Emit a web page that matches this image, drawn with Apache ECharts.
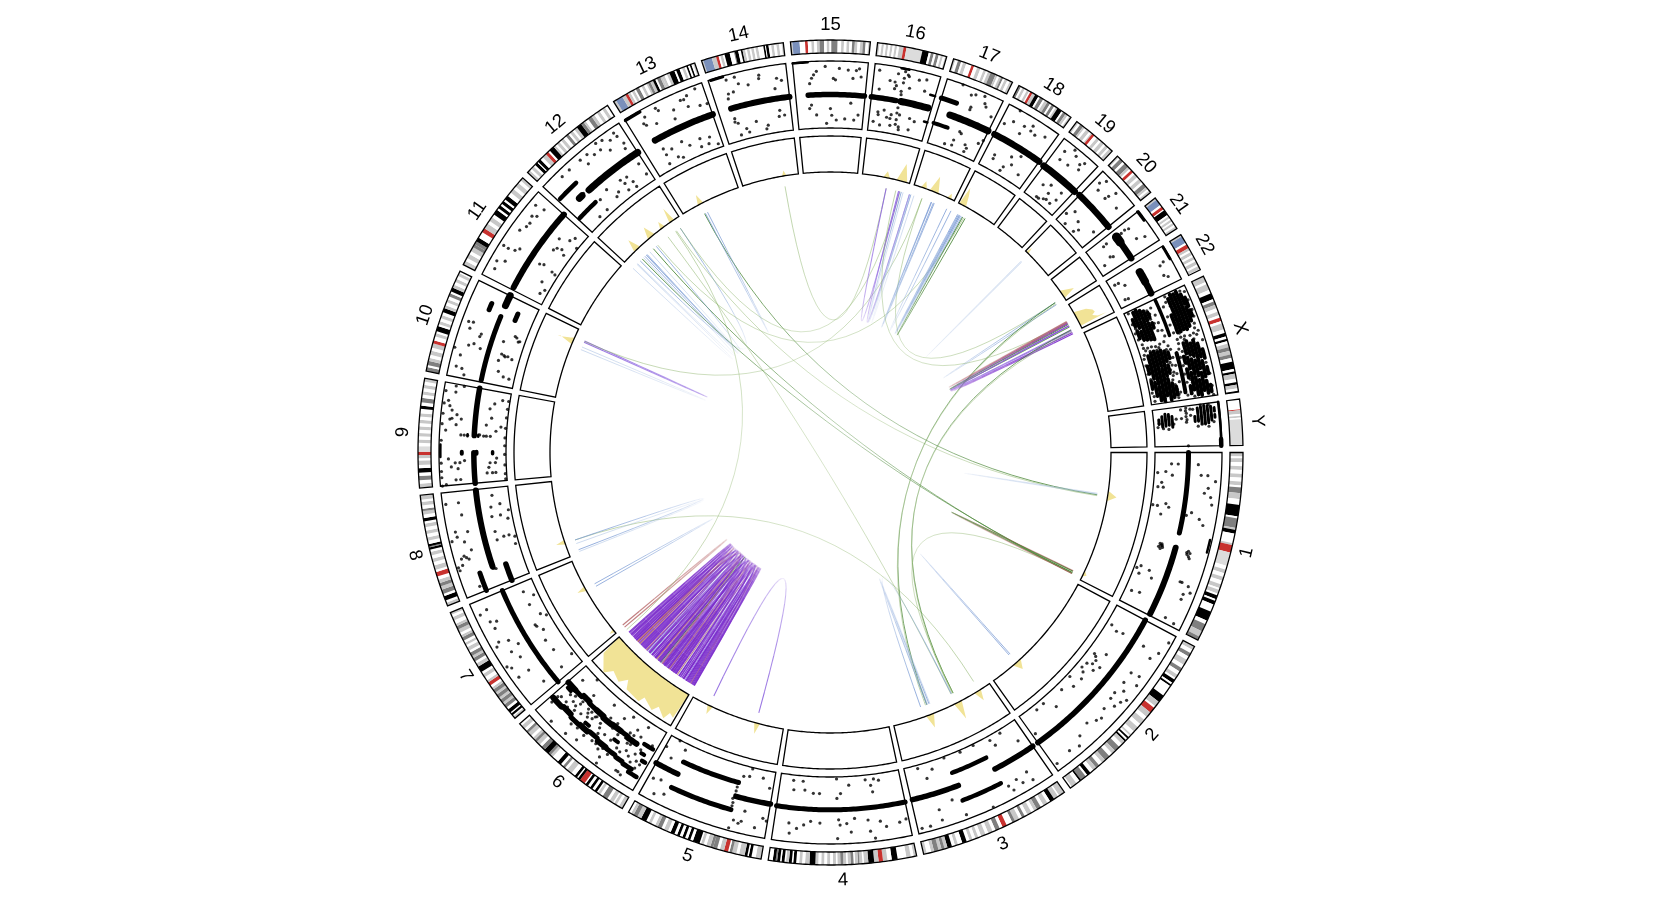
<!DOCTYPE html>
<html><head><meta charset="utf-8">
<style>html,body{margin:0;padding:0;background:#fff}#c{width:1662px;height:907px}</style>
<script src="https://cdn.jsdelivr.net/npm/echarts@6/dist/echarts.min.js"></script>
</head><body><div id="c"></div>
<script>
const chrNames=["1","2","3","4","5","6","7","8","9","10","11","12","13","14","15","16","17","18","19","20","21","22","X","Y"];
const chrLengths=[249.25,243.2,198,191.15,180.9,171.1,159.1,146.4,141.2,135.5,135,133.9,115.2,107.3,102.5,90.4,81.2,78.1,59.1,63,48.1,51.3,155.3,59.4];
// ideogram bands: width (% of chromosome), stain code
const stainColors=["#ffffff","#c8c8c8","#7f7f7f","#000000","#c8322f","#7a90bb","#dcdcdc"];
const bands1=[2,1,1,0,2,1,2,0,2,1,2,0,2,1,2,0,2,1,1,0,3,2,3,1,1,0,2,0,6,3,1,0,5,2,1,1,2,3,5,0,1,1,4,4,7,6,2,0,2,1,2,0,2,1,2,0,2,1,1,0,2,1,1,0,2,3,1,0,2,3,4,0,5,3,2,0,4,2,3,1,2,2];
const bands2=[2,1,2,0,2,2,2,0,3,1,2,0,2,2,2,0,2,1,1,0,2,3,1,0,1,3,6,0,4,3,3,1,1,0,3,4,3,1,2,0,3,1,2,0,3,1,2,0,1,1,1,0,1,3,1,0,1,3,2,1,2,0,3,2,2,1,2,0,3,2,2,1,2,0,2,2,2,1,2,0,2,3,1,0,3,2,1,3,2,0,3,1,1,0];
const bands3=[4,1,1,0,3,1,3,3,2,0,3,1,2,0,3,2,2,1,2,0,3,1,2,0,2,2,2,0,3,1,2,2,2,0,2,0,3,4,2,0,3,2,2,0,3,1,2,0,3,1,2,0,2,1,2,0,2,1,2,0,3,3,3,0,2,1,2,0,3,3,2,1,2,2,2,1,3,2,2,1,3,0,2,1];
const bands4=[2,1,2,0,3,1,2,0,4,0,4,3,3,0,3,1,3,4,3,1,4,3,3,1,1,0,2,1,1,2,2,1,1,0,2,2,2,1,1,0,2,1,2,2,2,1,1,0,2,1,2,0,2,1,2,0,2,1,2,0,2,1,4,3,3,1,2,0,2,1,2,0,2,3,1,0,2,3,2,1,1,0,2,3,1,0,2,3,1,2,2,3,3,0];
const bands5=[4,1,3,0,2,3,1,0,2,3,4,1,2,0,3,1,2,2,1,0,3,4,3,1,2,0,3,2,2,2,3,1,2,0,2,1,1,0,5,3,2,0,2,3,2,0,2,3,2,0,2,3,2,0,3,3,2,0,3,1,2,0,3,2,2,1,3,0,2,1,2,0,4,3,3,1,3,2,2,1,2,0];
const bands6=[3,1,2,0,2,1,1,0,3,1,2,0,4,2,2,0,2,1,1,0,2,3,2,0,2,3,2,0,2,3,1,0,4,4,2,3,1,0,2,3,3,0,4,1,2,0,2,2,2,0,3,3,2,0,3,0,2,1,2,2,4,3,3,2,2,0,3,1,2,2,2,1,2,0,3,1,2,2,2,0,3,1,2,0];
const bands7=[2,1,1,0,2,3,1,0,3,3,2,0,3,2,2,1,3,2,2,1,3,2,2,1,3,2,2,1,2,0,3,4,2,1,3,0,3,1,2,0,5,3,3,1,2,0,3,2,2,1,3,2,2,0,3,1,2,0,2,1,2,0,3,2,2,1,2,0,3,1,3,2,2,1,3,0,3,1,2,0,2,1];
const bands8=[3,1,2,0,4,3,2,0,4,2,3,1,3,2,3,1,3,0,4,4,2,0,4,1,3,0,3,1,3,0,3,1,2,0,2,3,1,2,2,3,3,0,3,1,3,0,3,1,3,0,3,1,2,0,3,3,3,0,3,1,2,2,3,0,3,1,2,0,4,1];
const bands9=[4,1,3,0,4,2,3,0,4,3,3,0,4,1,2,0,3,1,3,4,5,6,3,0,3,1,3,0,3,1,3,0,3,1,3,0,3,1,3,0,3,1,3,0,1,0,3,3,3,0,4,2,3,0,3,1,3,0,3,1,3,0,3,1];
const bands10=[4,2,2,0,4,2,3,1,3,0,4,1,3,0,4,1,3,4,4,0,3,1,2,0,5,3,2,0,3,1,3,0,3,1,3,0,4,3,3,1,3,0,3,1,3,0,3,2,2,0,4,3,3,1,3,0,3,1,3,0,3,1,2,0];
const bands11=[4,1,3,0,4,1,3,0,4,1,3,2,3,2,4,3,3,0,3,0,4,4,5,1,3,0,4,1,3,0,5,3,2,0,3,3,2,0,3,3,2,0,4,3,4,0,4,1,3,0,4,1,3,0,3,1];
const bands12=[3,1,2,0,3,1,2,0,3,3,1,0,3,3,3,0,4,1,3,4,2,0,5,3,2,1,2,0,3,1,2,0,3,1,3,0,3,2,2,0,3,1,2,0,3,1,5,3,3,2,2,1,3,0,4,2,3,1,3,0,3,1,3,0,3,1,3,0];
const bands13=[3,1,8,5,4,1,3,4,3,1,2,0,3,1,2,0,4,2,3,0,3,1,3,0,2,1,3,2,3,1,3,3,2,0,4,2,2,1,3,1,3,0,3,1,6,3,2,0,4,3,3,0,3,1,2,0,2,3,2,0,2,3,2,0,2,1];
const bands14=[2,1,10,5,5,1,3,4,2,0,3,1,2,0,6,3,5,0,1,2,4,3,3,0,2,3,3,1,2,0,3,1,2,0,3,1,2,0,3,1,6,0,2,3,1,0,3,3,3,0,3,1,3,0,3,1,3,0,2,1];
const bands15=[2,1,8,5,6,0,3,4,4,0,3,1,3,0,3,1,5,2,3,0,3,1,2,0,7,2,4,0,3,1,3,0,3,1,3,0,3,2,3,1,3,0,3,1,3,2,3,0,2,1];
const bands16=[3,1,3,0,3,1,3,0,3,1,3,0,3,1,3,0,3,1,3,0,6,1,4,4,22,6,9,3,3,0,4,2,3,0,4,2,3,0,3,1,3,0,2,1];
const bands17=[3,1,4,0,5,2,3,0,5,1,5,0,3,0,4,4,5,0,5,1,5,0,4,1,3,0,4,1,8,2,3,1,3,0,3,1,3,2,3,0,4,1,4,0,4,1];
const bands18=[4,2,3,0,4,1,4,0,4,1,2,0,4,4,5,1,6,3,3,0,6,2,3,0,5,1,5,2,3,0,5,2,3,0,3,1,8,3,3,0,5,2,4,1,3,0,3,1];
const bands19=[5,1,5,0,8,2,4,1,5,0,8,1,5,0,3,1,6,4,7,0,7,1,5,0,8,1,5,0,7,1,4,0,8,1];
const bands20=[4,1,4,0,8,2,5,0,10,2,5,1,4,0,6,4,5,0,8,1,5,0,8,1,5,0,9,2,5,1,4,0,5,1];
const bands21=[6,1,18,5,6,0,9,4,3,0,16,3,5,0,6,1,5,0,6,1,5,0,6,1,6,0,7,1];
const bands22=[5,1,18,5,5,0,10,4,6,1,5,0,8,1,5,0,7,1,6,0,8,1,5,0,8,1,2,0];
const bandsX=[5,1,2,0,5,1,3,0,5,3,2,0,3,2,3,1,3,0,3,1,2,0,3,4,2,0,5,1,3,0,3,3,2,0,2,3,2,0,3,1,3,2,3,1,3,2,3,0,6,3,2,0,2,3,4,1,3,0,2,3,3,1,2,0,1,3];
const bandsY=[22,0,2,4,8,1,4,0,4,1,3,0,57,6];
const chrBands=[bands1,bands2,bands3,bands4,bands5,bands6,bands7,bands8,bands9,bands10,bands11,bands12,bands13,bands14,bands15,bands16,bands17,bands18,bands19,bands20,bands21,bands22,bandsX,bandsY];

// dense copy-number runs: position from, position to, level, spread
const runs1=[[0,48,50,5],[57,99,50,6],[48,55,97,2.5]];
const runs2=[[0,100,48,5.5]];
const runs3=[[0,33,48,5.5],[35,64,27,4.5],[34,64,71,4.5],[63,99,48,5.5]];
const runs4=[[0,100,49,5]];
const runs5=[[0,29,48,5.5],[30,80,27,5],[30,80,69,5],[80,100,47,5.5]];
const runs6=[[90,99,36,6],[82,89,36,5],[74,81,33,6],[66,73,35,5],[56,64,35,6],[46,55,37,6],[36,45,36,6],[28,35,36,5],[18,27,38,6],[88,98,68,6],[78,86,66,6],[68,76,69,5],[58,66,68,6],[48,56,66,5],[38,46,69,6],[28,36,70,5],[20,26,72,5],[10,18,74,5],[3,12,32,4.5],[3,11,80,4.5],[3,6,55,4.5],[7,10,46,4],[92,96,42,4],[60,64,60,4],[32,36,52,4]];
const runs7=[[0,100,47,5]];
const runs8=[[0,18,28,5.5],[0,18,69,5],[20,99,48,6]];
const runs9=[[0,32,48,5.5],[50,100,48,5.5],[28,40,98,2.5],[31,33,20,3.5],[31,33,44,4],[31,33,66,4],[49,51,42,2.5],[49,51,58,2.5]];
const runs10=[[2,75,48,5],[77,84,68,5],[77,85,26,5],[88,100,48,7]];
const runs11=[[3,100,49,6]];
const runs12=[[32,100,48,7],[18,22,49,7],[3,27,69,4.5],[2,28,28,4.5]];
const runs13=[[19,100,50,6.5],[0,20,98,3]];
const runs14=[[18,100,50,6],[3,19,99,3]];
const runs15=[[18,99,50,5.5],[0,20,99,2.5]];
const runs16=[[0,41,50,5.5],[49,94,50,7],[40,52,99,2.5],[92,100,70,2.5],[94,100,29,2.5]];
const runs17=[[0,28,70,5],[24,99,50,7],[0,28,31,4]];
const runs18=[[1,100,50,6.5]];
const runs19=[[0,100,49,7]];
const runs20=[[0,100,50,6.5]];
const runs21=[[0,30,98,3],[21,40,50,9],[40,100,50,6.5]];
const runs22=[[3,39,99,3],[29,60,50,8],[60,98,50,6.5]];
const runsX=[[1,37,51,3.5],[55,93,53,4],
 [10,17,8,3.8],[22,30,8,3.8],[3,9,13,3.8],[11,20,13,3.8],[24,33,13,3.8],[2,12,18,3.8],[15,24,18,3.8],[26,34,18,3.8],[4,10,23,3.8],[12,21,23,3.8],[23,35,23,3.8],[6,16,28,3.8],[19,28,28,3.8],[30,36,28,3.8],[9,14,33,3.8],[20,25,33,3.8],
 [20,30,64,3.8],[32,37,64,3.8],[5,12,69,3.8],[14,27,69,3.8],[29,37,69,3.8],[2,9,74,3.8],[11,22,74,3.8],[24,36,74,3.8],[3,13,79,3.8],[15,28,79,3.8],[30,37,79,3.8],[2,10,84,3.8],[12,24,84,3.8],[26,35,84,3.8],[6,15,89,3.8],[18,31,89,3.8],[10,18,93,3.8],[22,27,93,3.8],
 [60,68,6,3.8],[76,84,6,3.8],[50,58,11,3.8],[60,74,11,3.8],[78,92,11,3.8],[48,62,16,3.8],[64,80,16,3.8],[83,97,16,3.8],[47,56,21,3.8],[58,72,21,3.8],[74,88,21,3.8],[90,98,21,3.8],[49,63,26,3.8],[66,78,26,3.8],[80,93,26,3.8],[48,58,31,3.8],[60,74,31,3.8],[77,90,31,3.8],[92,98,31,3.8],[50,60,36,3.8],[64,72,36,3.8],[82,96,36,3.8],[52,58,41,3.8],[86,94,41,3.8],
 [60,66,62,3.8],[72,80,62,3.8],[88,95,62,3.8],[48,58,67,3.8],[62,72,67,3.8],[76,92,67,3.8],[47,60,72,3.8],[64,78,72,3.8],[81,97,72,3.8],[50,62,77,3.8],[66,80,77,3.8],[84,98,77,3.8],[48,58,82,3.8],[60,74,82,3.8],[78,94,82,3.8],[52,64,87,3.8],[68,82,87,3.8],[86,97,87,3.8],[58,66,92,3.8],[74,80,92,3.8],[90,96,92,3.8]];
const runsY=[[0,100,99,2.5],[85,100,99,4.5],[28,40,8,3],[20,34,13,3],[38,48,13,3],[14,30,18,3],[32,46,18,3],[16,28,23,3],[30,44,23,3],[22,36,28,3],[40,50,28,3],[28,40,62,3],[8,22,67,3],[26,40,67,3],[6,18,72,3],[20,34,72,3],[36,46,72,3],[4,16,77,3],[18,32,77,3],[34,48,77,3],[6,20,82,3],[24,38,82,3],[40,46,82,3],[8,22,87,3],[26,40,87,3],[12,20,92,3],[28,34,92,3]];
const chrRuns=[runs1,runs2,runs3,runs4,runs5,runs6,runs7,runs8,runs9,runs10,runs11,runs12,runs13,runs14,runs15,runs16,runs17,runs18,runs19,runs20,runs21,runs22,runsX,runsY];

// single scatter points: position, level, position, level ...
const dots1=[7,25,7,35,13,5,12,17,14,27,19,12,22,7,22,15,34,3,34,10,32,22,34,27,39,17,7,65,13,80,13,70,16,92,20,82,23,77,25,87,29,90,35,62,38,75,41,82,37,55,57,26,58,28,59,25,58,30,60,28,57,29,59,31,57,70,58,73,59,69,60,72,58,68,61,74,76,4,74,9,79,10,75,23,79,30,91,10,90,22,75,75,76,86,79,92,81,83,75,72,84,83,98,88,97,73];
const dots2=[15,19,14,29,13,8,35,11,31,26,43,11,38,19,49,15,44,25,57,5,67,10,60,19,82,7,88,8,77,23,98,35,14,65,13,90,5,95,18,83,38,72,35,90,31,72,46,71,48,87,50,72,45,92,57,75,65,79,78,79,88,86,98,90,82,90,36,15,41,18,47,9,53,20,40,30,62,82,70,72,30,85,42,80,52,84];
const dots3=[66,2,84,23,89,5,26,7,16,5,24,17,7,29,14,75,23,77,13,90,28,89,46,98,65,93,82,73,82,89,97,93,91,93,71,65,20,86,30,80,40,2,52,3,78,12];
const dots4=[53,3,43,13,29,7,22,7,18,10,25,16,24,26,50,25,53,32,52,64,46,70,51,72,30,67,21,71,17,80,29,84,26,95,7,77,40,63,53,92,2,74,43,83,89,8,81,8,72,25,88,22,79,21,67,25,89,72,88,87,83,79,78,73,73,67,66,69];
const dots5=[21,2,22,14,10,12,3,25,27,16,19,66,26,83,22,86,9,87,4,71,1,74,28,96,20,82,91,1,99,18,83,10,91,30,96,69,90,66,90,89,83,83,30,34,30,40,30,46,31,52,30,58,30,63];
const dots6=[83,2,34,8,17,8,85,94,36,96,18,88,15,90,68,47,61,44,54,46,62,49,90,46,78,45,84,50,57,34,43,40,36,43,38,56,39,73,37,86,36,71,28,30,29,40,8,45,6,62,10,60,5,28,14,52,12,42,8,70,24,20,40,18,60,88,70,92,92,18,75,22,50,60,45,55,52,52,66,52,72,55,80,52,94,58,22,55,18,60,20,88,55,12,25,45,26,62,30,60,33,76,42,78,46,74,50,74,58,76,64,62,66,74,72,76,78,58,84,62,88,58,96,62,96,74,70,42,78,40,86,42,42,30,50,30,60,42,66,42,22,44,14,66,24,30,18,26];
const dots7=[90,80,88,92,79,83,77,74,72,81,60,86,57,72,50,62,57,92,47,77,39,70,25,71,9,63,35,90,25,89,38,95,91,19,84,7,77,19,64,11,60,4,57,26,39,25,27,23,13,5,9,29,55,25,49,19];
const dots8=[89,95,89,76,77,74,62,88,57,87,54,96,51,78,36,89,36,81,42,71,29,97,26,96,6,76,92,25,82,15,80,29,70,17,74,4,65,7,54,30,47,19,47,11,44,3,45,30,17,44,18,47,36,5,38,84,34,78,30,90,60,70,70,30];
const dots9=[26,86,22,76,22,69,10,29,10,21,5,69,5,76,1,91,26,14,21,16,21,24,2,2,98,83,99,71,83,91,66,83,70,76,66,69,65,86,54,91,91,11,91,2,82,2,62,31,56,16,61,9,49,2,50,24,50,30,50,34,51,40,50,58,50,63,50,68,0,97,8,97,14,97,22,97,44,97,60,97,70,97,80,97,92,97,8,2,18,2,30,2,40,2,60,2,72,2,16,72,18,82,24,62,10,16,16,26,80,28,86,22,70,24,60,76,74,84,92,82,78,88];
const dots10=[11,89,10,80,4,75,29,98,58,90,59,83,52,85,35,79,38,72,47,67,50,66,35,61,23,87,16,26,11,17,10,8,28,30,34,22,33,11,50,31,59,14,56,8,55,10,60,17,35,18,35,24,36,28];
const dots11=[19,90,23,79,11,87,36,93,36,85,38,75,42,70,65,81,77,84,70,80,80,78,90,76,88,90,58,86,40,33,42,27,40,11,39,5,24,16,17,6,11,10,66,25,68,18,62,28,64,11,76,31,82,17,80,2,88,13];
const dots12=[21,90,31,90,55,90,69,95,76,93,83,86,91,85,93,71,69,83,77,74,46,90,61,83,91,63,90,92,50,78,47,31,56,17,34,26,68,21,77,7,94,33,95,14,77,16,67,10,51,13,32,8,20,8,74,27,66,29,16,49,12,70,25,50];
const dots13=[22,88,17,80,38,92,40,87,19,76,31,71,57,78,54,65,73,86,75,74,90,95,98,68,69,87,89,69,78,90,23,33,33,27,23,23,21,9,36,12,57,20,73,23,49,30,86,20,71,11,82,11,94,6,42,8];
const dots14=[22,93,33,94,20,72,27,73,18,65,48,78,64,89,63,84,86,80,92,76,82,65,36,83,19,34,22,26,32,15,35,9,22,8,61,8,64,13,82,23,90,24,84,32,48,22,18,29];
const dots15=[21,67,27,80,31,85,43,92,24,75,54,74,57,72,62,89,74,87,85,87,81,75,92,78,89,90,22,35,19,30,29,20,44,7,50,29,59,12,72,14,80,38,86,13,92,21,52,19];
const dots16=[8,91,26,78,34,77,11,63,35,67,37,90,37,72,58,72,70,87,81,90,82,73,54,89,52,91,14,29,15,25,24,33,37,28,36,22,30,23,8,14,20,10,38,12,51,30,53,12,54,8,69,28,71,11,78,25,47,95,47,85,47,78,46,65,47,60,46,40,46,32,47,22,47,15];
const dots17=[28,99,47,89,54,92,69,95,74,85,54,72,78,81,93,71,54,68,33,7,47,17,47,9,52,32,56,30,76,13,71,17,93,27,99,34,74,7];
const dots18=[8,71,21,80,42,82,56,81,66,79,83,85,41,69,55,89,22,99,20,23,21,17,47,14,59,23,45,7,81,16,51,33,66,41];
const dots19=[19,85,36,96,47,90,73,90,22,71,45,72,72,77,66,84,28,26,45,33,34,6,59,12,53,21,80,21,41,6,52,10,73,11,78,34];
const dots20=[13,84,21,93,54,91,46,74,22,75,79,77,48,80,24,5,20,28,53,6,59,13,87,28,8,17,43,21];
const dots21=[23,72,60,73,69,85,19,66,73,11,60,25,65,29,21,26,19,32,25,46,21,59];
const dots22=[37,88,42,81,70,79,78,84,26,14,25,8,41,21,80,11,82,16];
const dotsX=[2,6,3,16,5,24,7,33,9,8,11,35,13,27,14,5,16,33,19,7,21,36,24,4,27,20,29,37,31,5,33,17,35,25,37,8,2,66,3,76,3,90,5,96,7,64,10,88,12,68,13,96,17,84,20,65,22,96,26,72,28,95,30,66,32,74,34,92,36,76,38,66,38,90,41,8,42,14,42,20,43,26,42,33,41,40,43,60,42,66,42,72,43,80,42,86,41,94,44,10,45,30,45,70,44,90,46,16,47,26,46,44,47,60,47,84,48,6,49,40,50,96,52,4,54,40,55,62,56,30,57,76,58,42,59,4,60,64,62,40,63,86,64,6,65,42,67,64,68,4,69,38,70,92,72,42,73,64,74,6,75,40,77,78,78,6,79,38,80,94,82,64,83,6,84,40,85,66,87,22,88,4,89,42,90,64,91,94,92,6,93,18,94,43,95,62,96,22,97,6,97,42,98,66,99,94,99,22,6,40,14,42,22,42,30,43,10,58,20,58,28,57,36,44,36,58,50,46,58,46,66,47,74,46,82,47,52,58,60,57,68,58,76,57,84,58,92,46,96,56];
const dotsY=[99,50,5,50,12,49,18,50,26,49,34,50,40,49,8,42,9,56,10,60,30,34,38,8,42,30,48,6,52,14,55,22,2,72,3,84,44,90,48,72,54,82,52,66,24,56,30,42];
const chrDots=[dots1,dots2,dots3,dots4,dots5,dots6,dots7,dots8,dots9,dots10,dots11,dots12,dots13,dots14,dots15,dots16,dots17,dots18,dots19,dots20,dots21,dots22,dotsX,dotsY];

// coverage histogram: position, height outlines per chromosome
const hist1=[[29,0,33,25,37,0],[92,0,95,10,97,0]];
const hist2=[[73,0,77,25,81,0]];
const hist3=[[10,0,13,30,17,0],[31,0,35,50,39,0],[60,0,64,38,68,0]];
const hist5=[[25,0,28,30,31,0],[77,0,80,25,83,0]];
const hist6=[[0,0,2,78,7,71,10,93,20,73,24,92,37,75,39.5,94,56,89,61,66,67,88,78,76,84,99,98,62,100,0]];
const hist7=[[2,0,4,15,6,0],[61,0,64,25,67,0]];
const hist8=[[17,0,20,25,23,0]];
const hist10=[[77,0,82,38,80,45,85,10,87,0]];
const hist12=[[20,0,25,35,31,0],[46,0,52,33,58,0],[68,0,72,20,76,0],[84,0,88,42,92,0]];
const hist13=[[28,0,33,28,38,0]];
const hist14=[[71,0,75,15,79,0]];
const hist16=[[44,0,51,18,58,0],[72,0,84,50,95,0]];
const hist17=[[17,0,24,20,31,0],[38,0,49,45,60,0],[82,0,88,15,93,0]];
const hist18=[[2,0,8,52,14,30,20,0]];
const hist20=[[3,0,7,18,12,0]];
const hist21=[[55,0,77,37,90,0]];
const hist22=[[34,0,45,35,58,50,68,53,75,42,85,55,88,82,90,0]];
const chrHist={0:hist1,1:hist2,2:hist3,4:hist5,5:hist6,6:hist7,7:hist8,9:hist10,11:hist12,12:hist13,13:hist14,15:hist16,16:hist17,17:hist18,19:hist20,20:hist21,21:hist22};

// links: angle A, angle B, class
const linkStyles=[
 {c:"#7b2dcc",w:1.25,a:.95,f:.04,p:.8},{c:"#8f68e0",w:1.05,a:.95,f:.06,p:.8},{c:"#4f8a3c",w:1,a:.95,f:.4,p:1},
 {c:"#8cb36a",w:.8,a:.7,f:.6,p:1},{c:"#7f9fd6",w:1,a:.85,f:.03,p:1.2},{c:"#a9bfe2",w:.85,a:.7,f:.03,p:1.2},{c:"#b0585a",w:1.2,a:.8,f:.04,p:.9}];
const linksBundle=[[120.4,122.3,0],[120.8,123,0],[121.2,124.6,6],[121.6,122.4,0],[122,125.2,0],[122.6,123.7,1],[123.1,126.5,0],[123.4,124.2,0],[124.4,127.3,5],[124.9,125.6,0],[125.4,128.2,0],[125.9,126.7,6],[126.2,129.1,0],[126.9,127.7,0],[127.5,130.3,0],[128,128.8,1],[128.4,131.2,0],[129,129.6,2],[129.4,132.1,0],[129.8,130.6,0],[130.1,133,6],[130.9,131.5,0],[131.4,134.2,0],[131.8,132.5,4],[132.3,135.1,0],[132.8,133.5,0],[133.3,136,0],[133.8,134.6,1],[134.4,137,0],[134.9,135.7,6],[135.4,137.8,0],[135.9,136.6,0],[136.3,138.3,0],[136.8,137.5,0],[137.3,138.1,0],[121,128,0],[122.2,130.5,0],[123.8,132,0],[125,134,0],[126,136,0],[127,137.6,0],[128.6,135.5,6],[121.8,126,0],[124.1,129.6,0],[120.6,121.4,0],[122.9,127.9,0],[130.4,136.4,0],[127.2,133.7,0],[129.2,134.6,0],[120.3,125.7,0]];
const linksOther=[
 [204.1,204.4,1],[202.4,203,5],[204.3,289.8,3],
 [161.1,58,3],[158.5,160.3,5],[161.1,158.9,4],[150.9,150.3,4],[140.3,139.7,6],[235,139,3],
 [223,224.2,5],[225.8,26.4,2],[229,26.6,2],[226.2,224.4,5],[226.6,227.2,4],[227,228,5],[229.8,227,4],[236.2,225.2,4],
 [233,63.5,3],[242.2,9,2],[242.4,242.9,4],[235.2,9.2,3],[260.3,281.9,3],[236.2,284.9,3],[230.2,299.6,3],
 [281.9,284.8,1],[284.6,287,1],[285.2,287.3,4],[285.6,287,5],[287.3,288,5],[289.8,326.3,3],
 [291.9,292.4,4],[292,292.6,4],[295.5,296.5,4],[298.1,298.8,4],[298.3,298.6,4],[298.5,299.1,4],[299.3,299.9,2],[314.9,315.1,5],
 [326.3,326.8,4],[326.3,69.1,2],[326.6,69.4,3],[331.2,284,3],
 [331.2,333.2,1],[331.5,333.6,0],[332,333.9,0],[331,331.3,6],[331.7,332.3,2],[332.1,333,1],
 [115.6,105.4,1],[69.1,68.6,4],[68.9,68.4,5],[63.4,70.5,4],[63,333,2],[63.2,333.4,3],[63,26.5,3],[48.3,48.6,4],[8.9,8.7,5],[26.6,26,6],[26.4,26.1,2]];

// ----- tracks and chart -----
const total=chrLengths.reduce((a,b)=>a+b,0);
const gap=1, degPerUnit=(360-gap*chrNames.length)/total;
const starts=[];chrLengths.reduce((acc,l,i)=>{starts[i]=acc;return acc+l*degPerUnit+gap},0);
const ang=(i,u)=>starts[i]+u/100*chrLengths[i]*degPerUnit;
const R={ideoO:412.5,ideoI:399.5,scatO:391.5,scatI:324.5,histO:316.5,histI:280.5,link:270,label:428};
const vR=v=>R.scatI+(R.scatO-R.scatI)*v/100;
const hR=h=>R.histI+(R.histO-R.histI)*h/100;
function arcPts(api,r,a0,a1){const n=Math.max(1,Math.ceil(Math.abs(a1-a0)/.4));const p=[];for(let k=0;k<=n;k++)p.push(api.coord([r,a0+(a1-a0)*k/n]).slice(0,2));return p}
function secPts(api,r0,r1,a0,a1){return arcPts(api,r1,a0,a1).concat(arcPts(api,r0,a1,a0))}
const idx=n=>Array.from({length:n},(_,i)=>[1,1,i]);
function customSeries(rows,draw){return {type:'custom',coordinateSystem:'polar',silent:true,animation:false,data:idx(rows.length),renderItem:(p,api)=>draw(rows[p.dataIndex],api)}}

const bandRows=[];chrBands.forEach((b,i)=>{let s=0;for(let k=0;k<b.length;k+=2)s+=b[k];let u=0;for(let k=0;k<b.length;k+=2){bandRows.push([i,u/s*100,(u+b[k])/s*100,b[k+1]]);u+=b[k]}});
const cellRows=[];chrNames.forEach((_,i)=>{cellRows.push([i,R.ideoI,R.ideoO],[i,R.scatI,R.scatO],[i,R.histI,R.histO])});
const histRows=[];Object.keys(chrHist).forEach(k=>chrHist[k].forEach(s=>histRows.push([+k,s])));
const runRows=[];chrRuns.forEach((rs,i)=>rs.forEach(r=>runRows.push([i,...r])));
const dotData=[];chrDots.forEach((d,i)=>{for(let k=0;k<d.length;k+=2)dotData.push([vR(d[k+1]),ang(i,d[k])])});
const labelRows=chrNames.map((n,i)=>[i,n]);
const linkRows=linksBundle.concat(linksOther);

const series=[
 customSeries(histRows,(row,api)=>{const [i,s]=row;const pts=[];for(let k=0;k<s.length;k+=2)pts.push(api.coord([hR(s[k+1]),ang(i,s[k])]).slice(0,2));
  return {type:'polygon',shape:{points:pts.concat(arcPts(api,R.histI,ang(i,s[s.length-2]),ang(i,s[0])))},style:{fill:'#f1e396'}}}),
 customSeries(bandRows,(row,api)=>{const [i,u0,u1,c]=row;return {type:'polygon',shape:{points:secPts(api,R.ideoI,R.ideoO,ang(i,u0),ang(i,u1))},style:{fill:stainColors[c]}}}),
 customSeries(cellRows,(row,api)=>{const [i,r0,r1]=row;return {type:'polygon',shape:{points:secPts(api,r0,r1,ang(i,0),ang(i,100))},style:{fill:'none',stroke:'#000',lineWidth:1.3}}}),
 customSeries(runRows,(row,api)=>{const [i,u0,u1,v,t]=row;return {type:'polyline',shape:{points:arcPts(api,vR(v),ang(i,u0),ang(i,u1))},style:{fill:'none',stroke:'#000',lineWidth:t,lineCap:'round'}}}),
 {type:'scatter',coordinateSystem:'polar',silent:true,animation:false,symbolSize:3.2,itemStyle:{color:'#000'},data:dotData},
 customSeries(linkRows,(row,api)=>{const [a,b,cl]=row;const st=linkStyles[cl];const A=api.coord([R.link,a]),B=api.coord([R.link,b]),C=api.coord([0,0]);
  const n=24,kids=[];const pt=t=>{const m=1-t;return [m*m*A[0]+2*m*t*C[0]+t*t*B[0],m*m*A[1]+2*m*t*C[1]+t*t*B[1]]};
  for(let k=0;k<n;k++){const t0=k/n,t1=(k+1)/n,tm=(t0+t1)/2;const e=Math.abs(2*tm-1);
   kids.push({type:'line',shape:{x1:pt(t0)[0],y1:pt(t0)[1],x2:pt(t1)[0],y2:pt(t1)[1]},style:{stroke:st.c,lineWidth:st.w,opacity:st.a*(st.f+(1-st.f)*Math.pow(e,st.p))}})}
  return {type:'group',children:kids}}),
 customSeries(labelRows,(row,api)=>{const [i,n]=row;const a=ang(i,50);const p=api.coord([R.label,a]);const cw=(a>180?a+90:a-90);
  return {type:'text',x:p[0],y:p[1],rotation:-cw*Math.PI/180,style:{text:n,textAlign:'center',textVerticalAlign:'middle',fill:'#000',font:'18.5px "Liberation Sans",Arial,sans-serif'}}})
];
const chart=echarts.init(document.getElementById('c'),null,{renderer:'canvas'});
chart.setOption({animation:false,backgroundColor:'#fff',tooltip:{show:false},
 polar:{center:[830.5,452.5],radius:412.5},
 angleAxis:{type:'value',min:0,max:360,startAngle:0,clockwise:true,show:false},
 radiusAxis:{type:'value',min:0,max:412.5,show:false},
 series});
</script></body></html>
